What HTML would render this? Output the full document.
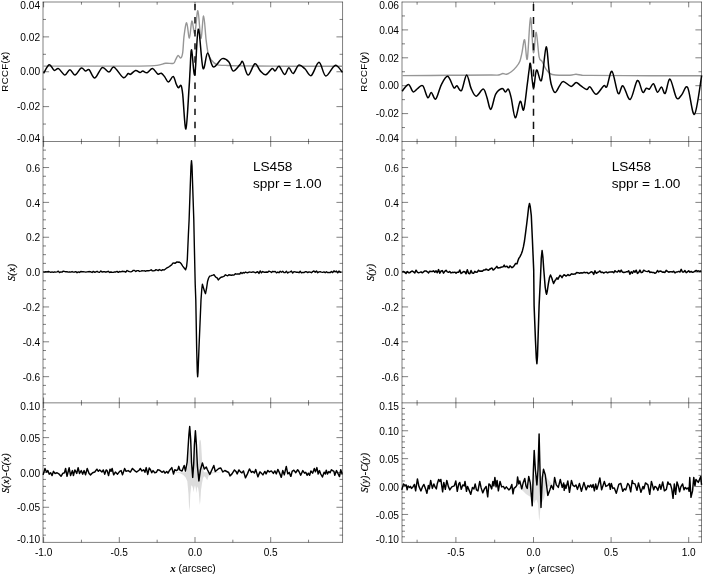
<!DOCTYPE html>
<html><head><meta charset="utf-8"><title>chart</title><style>html,body{margin:0;padding:0;background:#fff}svg{display:block;will-change:transform}</style></head><body>
<svg width="703" height="575" viewBox="0 0 703 575">
<rect width="703" height="575" fill="#fff"/>
<path d="M172.00,472.30L186.50,472.30L187.50,466.30L188.50,454.30L189.40,446.80L190.30,454.30L191.20,464.30L192.30,468.30L193.50,464.30L194.50,454.30L195.40,448.30L196.30,454.30L197.30,464.30L198.30,464.30L198.60,456.30L198.90,448.30L199.20,442.30L199.70,439.90L200.30,439.70L200.80,441.30L201.20,445.30L201.60,452.30L202.20,462.30L203.00,469.30L204.00,472.30L222.00,472.30L222.00,472.30L218.00,472.70L213.00,473.30L210.00,474.30L208.50,476.30L207.30,480.30L206.00,478.30L205.00,476.80L204.00,476.30L203.00,478.30L202.00,483.30L201.00,490.30L200.30,501.30L199.90,504.90L199.50,501.30L198.80,492.30L197.80,486.30L197.00,488.30L196.40,493.30L195.80,488.30L195.00,485.30L194.20,488.30L193.60,492.30L193.00,488.30L192.30,486.30L191.30,485.30L190.30,494.30L189.80,506.30L189.40,510.90L189.00,506.30L188.50,494.30L187.30,481.30L185.50,477.30L183.00,474.80L180.00,473.30L176.00,472.70L172.00,472.30Z" fill="#dcdcdc" stroke="none"/>
<path d="M518.00,486.40L531.00,486.40L533.00,480.40L534.20,474.40L536.50,478.40L539.30,472.40L541.50,476.40L543.50,474.40L545.00,475.90L547.00,477.90L549.00,480.40L551.00,482.90L553.00,484.90L555.50,486.40L555.50,486.40L546.50,486.40L545.50,492.40L544.00,498.40L542.00,502.40L540.80,505.40L540.20,510.40L539.70,517.40L539.30,521.10L538.90,517.40L538.40,510.40L537.80,503.40L536.50,499.40L535.50,500.40L534.20,503.40L533.00,499.40L531.00,496.90L529.00,495.90L526.00,493.90L523.00,490.90L520.00,488.40L518.00,486.40Z" fill="#e0e0e0" stroke="none"/>
<line x1="42.75" y1="2.00" x2="342.80" y2="2.00" stroke="#000" stroke-width="0.5" fill="none"/>
<line x1="42.75" y1="141.50" x2="342.80" y2="141.50" stroke="#000" stroke-width="0.5" fill="none"/>
<line x1="42.75" y1="402.85" x2="342.80" y2="402.85" stroke="#000" stroke-width="0.5" fill="none"/>
<line x1="42.75" y1="542.40" x2="342.80" y2="542.40" stroke="#000" stroke-width="0.5" fill="none"/>
<line x1="43.00" y1="1.75" x2="43.00" y2="542.65" stroke="#000" stroke-width="0.5" fill="none"/>
<line x1="342.55" y1="1.75" x2="342.55" y2="542.65" stroke="#000" stroke-width="0.5" fill="none"/>
<line x1="43.60" y1="2.00" x2="43.60" y2="7.35" stroke="#000" stroke-width="0.5" fill="none"/>
<line x1="43.60" y1="136.15" x2="43.60" y2="146.85" stroke="#000" stroke-width="0.5" fill="none"/>
<line x1="43.60" y1="397.50" x2="43.60" y2="408.20" stroke="#000" stroke-width="0.5" fill="none"/>
<line x1="43.60" y1="537.05" x2="43.60" y2="542.40" stroke="#000" stroke-width="0.5" fill="none"/>
<line x1="81.45" y1="2.00" x2="81.45" y2="4.70" stroke="#000" stroke-width="0.5" fill="none"/>
<line x1="81.45" y1="138.80" x2="81.45" y2="144.20" stroke="#000" stroke-width="0.5" fill="none"/>
<line x1="81.45" y1="400.15" x2="81.45" y2="405.55" stroke="#000" stroke-width="0.5" fill="none"/>
<line x1="81.45" y1="539.70" x2="81.45" y2="542.40" stroke="#000" stroke-width="0.5" fill="none"/>
<line x1="119.30" y1="2.00" x2="119.30" y2="7.35" stroke="#000" stroke-width="0.5" fill="none"/>
<line x1="119.30" y1="136.15" x2="119.30" y2="146.85" stroke="#000" stroke-width="0.5" fill="none"/>
<line x1="119.30" y1="397.50" x2="119.30" y2="408.20" stroke="#000" stroke-width="0.5" fill="none"/>
<line x1="119.30" y1="537.05" x2="119.30" y2="542.40" stroke="#000" stroke-width="0.5" fill="none"/>
<line x1="157.15" y1="2.00" x2="157.15" y2="4.70" stroke="#000" stroke-width="0.5" fill="none"/>
<line x1="157.15" y1="138.80" x2="157.15" y2="144.20" stroke="#000" stroke-width="0.5" fill="none"/>
<line x1="157.15" y1="400.15" x2="157.15" y2="405.55" stroke="#000" stroke-width="0.5" fill="none"/>
<line x1="157.15" y1="539.70" x2="157.15" y2="542.40" stroke="#000" stroke-width="0.5" fill="none"/>
<line x1="195.00" y1="2.00" x2="195.00" y2="7.35" stroke="#000" stroke-width="0.5" fill="none"/>
<line x1="195.00" y1="136.15" x2="195.00" y2="146.85" stroke="#000" stroke-width="0.5" fill="none"/>
<line x1="195.00" y1="397.50" x2="195.00" y2="408.20" stroke="#000" stroke-width="0.5" fill="none"/>
<line x1="195.00" y1="537.05" x2="195.00" y2="542.40" stroke="#000" stroke-width="0.5" fill="none"/>
<line x1="232.85" y1="2.00" x2="232.85" y2="4.70" stroke="#000" stroke-width="0.5" fill="none"/>
<line x1="232.85" y1="138.80" x2="232.85" y2="144.20" stroke="#000" stroke-width="0.5" fill="none"/>
<line x1="232.85" y1="400.15" x2="232.85" y2="405.55" stroke="#000" stroke-width="0.5" fill="none"/>
<line x1="232.85" y1="539.70" x2="232.85" y2="542.40" stroke="#000" stroke-width="0.5" fill="none"/>
<line x1="270.70" y1="2.00" x2="270.70" y2="7.35" stroke="#000" stroke-width="0.5" fill="none"/>
<line x1="270.70" y1="136.15" x2="270.70" y2="146.85" stroke="#000" stroke-width="0.5" fill="none"/>
<line x1="270.70" y1="397.50" x2="270.70" y2="408.20" stroke="#000" stroke-width="0.5" fill="none"/>
<line x1="270.70" y1="537.05" x2="270.70" y2="542.40" stroke="#000" stroke-width="0.5" fill="none"/>
<line x1="308.55" y1="2.00" x2="308.55" y2="4.70" stroke="#000" stroke-width="0.5" fill="none"/>
<line x1="308.55" y1="138.80" x2="308.55" y2="144.20" stroke="#000" stroke-width="0.5" fill="none"/>
<line x1="308.55" y1="400.15" x2="308.55" y2="405.55" stroke="#000" stroke-width="0.5" fill="none"/>
<line x1="308.55" y1="539.70" x2="308.55" y2="542.40" stroke="#000" stroke-width="0.5" fill="none"/>
<line x1="401.75" y1="2.00" x2="701.75" y2="2.00" stroke="#000" stroke-width="0.5" fill="none"/>
<line x1="401.75" y1="141.50" x2="701.75" y2="141.50" stroke="#000" stroke-width="0.5" fill="none"/>
<line x1="401.75" y1="402.85" x2="701.75" y2="402.85" stroke="#000" stroke-width="0.5" fill="none"/>
<line x1="401.75" y1="542.40" x2="701.75" y2="542.40" stroke="#000" stroke-width="0.5" fill="none"/>
<line x1="402.00" y1="1.75" x2="402.00" y2="542.65" stroke="#000" stroke-width="0.5" fill="none"/>
<line x1="701.50" y1="1.75" x2="701.50" y2="542.65" stroke="#000" stroke-width="0.5" fill="none"/>
<line x1="417.10" y1="2.00" x2="417.10" y2="4.70" stroke="#000" stroke-width="0.5" fill="none"/>
<line x1="417.10" y1="138.80" x2="417.10" y2="144.20" stroke="#000" stroke-width="0.5" fill="none"/>
<line x1="417.10" y1="400.15" x2="417.10" y2="405.55" stroke="#000" stroke-width="0.5" fill="none"/>
<line x1="417.10" y1="539.70" x2="417.10" y2="542.40" stroke="#000" stroke-width="0.5" fill="none"/>
<line x1="455.90" y1="2.00" x2="455.90" y2="7.35" stroke="#000" stroke-width="0.5" fill="none"/>
<line x1="455.90" y1="136.15" x2="455.90" y2="146.85" stroke="#000" stroke-width="0.5" fill="none"/>
<line x1="455.90" y1="397.50" x2="455.90" y2="408.20" stroke="#000" stroke-width="0.5" fill="none"/>
<line x1="455.90" y1="537.05" x2="455.90" y2="542.40" stroke="#000" stroke-width="0.5" fill="none"/>
<line x1="494.70" y1="2.00" x2="494.70" y2="4.70" stroke="#000" stroke-width="0.5" fill="none"/>
<line x1="494.70" y1="138.80" x2="494.70" y2="144.20" stroke="#000" stroke-width="0.5" fill="none"/>
<line x1="494.70" y1="400.15" x2="494.70" y2="405.55" stroke="#000" stroke-width="0.5" fill="none"/>
<line x1="494.70" y1="539.70" x2="494.70" y2="542.40" stroke="#000" stroke-width="0.5" fill="none"/>
<line x1="533.50" y1="2.00" x2="533.50" y2="7.35" stroke="#000" stroke-width="0.5" fill="none"/>
<line x1="533.50" y1="136.15" x2="533.50" y2="146.85" stroke="#000" stroke-width="0.5" fill="none"/>
<line x1="533.50" y1="397.50" x2="533.50" y2="408.20" stroke="#000" stroke-width="0.5" fill="none"/>
<line x1="533.50" y1="537.05" x2="533.50" y2="542.40" stroke="#000" stroke-width="0.5" fill="none"/>
<line x1="572.30" y1="2.00" x2="572.30" y2="4.70" stroke="#000" stroke-width="0.5" fill="none"/>
<line x1="572.30" y1="138.80" x2="572.30" y2="144.20" stroke="#000" stroke-width="0.5" fill="none"/>
<line x1="572.30" y1="400.15" x2="572.30" y2="405.55" stroke="#000" stroke-width="0.5" fill="none"/>
<line x1="572.30" y1="539.70" x2="572.30" y2="542.40" stroke="#000" stroke-width="0.5" fill="none"/>
<line x1="611.10" y1="2.00" x2="611.10" y2="7.35" stroke="#000" stroke-width="0.5" fill="none"/>
<line x1="611.10" y1="136.15" x2="611.10" y2="146.85" stroke="#000" stroke-width="0.5" fill="none"/>
<line x1="611.10" y1="397.50" x2="611.10" y2="408.20" stroke="#000" stroke-width="0.5" fill="none"/>
<line x1="611.10" y1="537.05" x2="611.10" y2="542.40" stroke="#000" stroke-width="0.5" fill="none"/>
<line x1="649.90" y1="2.00" x2="649.90" y2="4.70" stroke="#000" stroke-width="0.5" fill="none"/>
<line x1="649.90" y1="138.80" x2="649.90" y2="144.20" stroke="#000" stroke-width="0.5" fill="none"/>
<line x1="649.90" y1="400.15" x2="649.90" y2="405.55" stroke="#000" stroke-width="0.5" fill="none"/>
<line x1="649.90" y1="539.70" x2="649.90" y2="542.40" stroke="#000" stroke-width="0.5" fill="none"/>
<line x1="688.70" y1="2.00" x2="688.70" y2="7.35" stroke="#000" stroke-width="0.5" fill="none"/>
<line x1="688.70" y1="136.15" x2="688.70" y2="146.85" stroke="#000" stroke-width="0.5" fill="none"/>
<line x1="688.70" y1="397.50" x2="688.70" y2="408.20" stroke="#000" stroke-width="0.5" fill="none"/>
<line x1="688.70" y1="537.05" x2="688.70" y2="542.40" stroke="#000" stroke-width="0.5" fill="none"/>
<line x1="43.00" y1="124.06" x2="46.00" y2="124.06" stroke="#000" stroke-width="0.5" fill="none"/>
<line x1="342.55" y1="124.06" x2="339.55" y2="124.06" stroke="#000" stroke-width="0.5" fill="none"/>
<line x1="43.00" y1="106.62" x2="49.10" y2="106.62" stroke="#000" stroke-width="0.5" fill="none"/>
<line x1="342.55" y1="106.62" x2="336.45" y2="106.62" stroke="#000" stroke-width="0.5" fill="none"/>
<line x1="43.00" y1="89.19" x2="46.00" y2="89.19" stroke="#000" stroke-width="0.5" fill="none"/>
<line x1="342.55" y1="89.19" x2="339.55" y2="89.19" stroke="#000" stroke-width="0.5" fill="none"/>
<line x1="43.00" y1="71.75" x2="49.10" y2="71.75" stroke="#000" stroke-width="0.5" fill="none"/>
<line x1="342.55" y1="71.75" x2="336.45" y2="71.75" stroke="#000" stroke-width="0.5" fill="none"/>
<line x1="43.00" y1="54.31" x2="46.00" y2="54.31" stroke="#000" stroke-width="0.5" fill="none"/>
<line x1="342.55" y1="54.31" x2="339.55" y2="54.31" stroke="#000" stroke-width="0.5" fill="none"/>
<line x1="43.00" y1="36.88" x2="49.10" y2="36.88" stroke="#000" stroke-width="0.5" fill="none"/>
<line x1="342.55" y1="36.88" x2="336.45" y2="36.88" stroke="#000" stroke-width="0.5" fill="none"/>
<line x1="43.00" y1="19.44" x2="46.00" y2="19.44" stroke="#000" stroke-width="0.5" fill="none"/>
<line x1="342.55" y1="19.44" x2="339.55" y2="19.44" stroke="#000" stroke-width="0.5" fill="none"/>
<line x1="402.00" y1="127.55" x2="405.00" y2="127.55" stroke="#000" stroke-width="0.5" fill="none"/>
<line x1="701.50" y1="127.55" x2="698.50" y2="127.55" stroke="#000" stroke-width="0.5" fill="none"/>
<line x1="402.00" y1="113.60" x2="408.10" y2="113.60" stroke="#000" stroke-width="0.5" fill="none"/>
<line x1="701.50" y1="113.60" x2="695.40" y2="113.60" stroke="#000" stroke-width="0.5" fill="none"/>
<line x1="402.00" y1="99.65" x2="405.00" y2="99.65" stroke="#000" stroke-width="0.5" fill="none"/>
<line x1="701.50" y1="99.65" x2="698.50" y2="99.65" stroke="#000" stroke-width="0.5" fill="none"/>
<line x1="402.00" y1="85.70" x2="408.10" y2="85.70" stroke="#000" stroke-width="0.5" fill="none"/>
<line x1="701.50" y1="85.70" x2="695.40" y2="85.70" stroke="#000" stroke-width="0.5" fill="none"/>
<line x1="402.00" y1="71.75" x2="405.00" y2="71.75" stroke="#000" stroke-width="0.5" fill="none"/>
<line x1="701.50" y1="71.75" x2="698.50" y2="71.75" stroke="#000" stroke-width="0.5" fill="none"/>
<line x1="402.00" y1="57.80" x2="408.10" y2="57.80" stroke="#000" stroke-width="0.5" fill="none"/>
<line x1="701.50" y1="57.80" x2="695.40" y2="57.80" stroke="#000" stroke-width="0.5" fill="none"/>
<line x1="402.00" y1="43.85" x2="405.00" y2="43.85" stroke="#000" stroke-width="0.5" fill="none"/>
<line x1="701.50" y1="43.85" x2="698.50" y2="43.85" stroke="#000" stroke-width="0.5" fill="none"/>
<line x1="402.00" y1="29.90" x2="408.10" y2="29.90" stroke="#000" stroke-width="0.5" fill="none"/>
<line x1="701.50" y1="29.90" x2="695.40" y2="29.90" stroke="#000" stroke-width="0.5" fill="none"/>
<line x1="402.00" y1="15.95" x2="405.00" y2="15.95" stroke="#000" stroke-width="0.5" fill="none"/>
<line x1="701.50" y1="15.95" x2="698.50" y2="15.95" stroke="#000" stroke-width="0.5" fill="none"/>
<line x1="43.00" y1="394.09" x2="46.00" y2="394.09" stroke="#000" stroke-width="0.5" fill="none"/>
<line x1="342.55" y1="394.09" x2="339.55" y2="394.09" stroke="#000" stroke-width="0.5" fill="none"/>
<line x1="43.00" y1="385.38" x2="46.00" y2="385.38" stroke="#000" stroke-width="0.5" fill="none"/>
<line x1="342.55" y1="385.38" x2="339.55" y2="385.38" stroke="#000" stroke-width="0.5" fill="none"/>
<line x1="43.00" y1="376.66" x2="49.10" y2="376.66" stroke="#000" stroke-width="0.5" fill="none"/>
<line x1="342.55" y1="376.66" x2="336.45" y2="376.66" stroke="#000" stroke-width="0.5" fill="none"/>
<line x1="43.00" y1="367.95" x2="46.00" y2="367.95" stroke="#000" stroke-width="0.5" fill="none"/>
<line x1="342.55" y1="367.95" x2="339.55" y2="367.95" stroke="#000" stroke-width="0.5" fill="none"/>
<line x1="43.00" y1="359.24" x2="46.00" y2="359.24" stroke="#000" stroke-width="0.5" fill="none"/>
<line x1="342.55" y1="359.24" x2="339.55" y2="359.24" stroke="#000" stroke-width="0.5" fill="none"/>
<line x1="43.00" y1="350.52" x2="46.00" y2="350.52" stroke="#000" stroke-width="0.5" fill="none"/>
<line x1="342.55" y1="350.52" x2="339.55" y2="350.52" stroke="#000" stroke-width="0.5" fill="none"/>
<line x1="43.00" y1="341.81" x2="49.10" y2="341.81" stroke="#000" stroke-width="0.5" fill="none"/>
<line x1="342.55" y1="341.81" x2="336.45" y2="341.81" stroke="#000" stroke-width="0.5" fill="none"/>
<line x1="43.00" y1="333.09" x2="46.00" y2="333.09" stroke="#000" stroke-width="0.5" fill="none"/>
<line x1="342.55" y1="333.09" x2="339.55" y2="333.09" stroke="#000" stroke-width="0.5" fill="none"/>
<line x1="43.00" y1="324.38" x2="46.00" y2="324.38" stroke="#000" stroke-width="0.5" fill="none"/>
<line x1="342.55" y1="324.38" x2="339.55" y2="324.38" stroke="#000" stroke-width="0.5" fill="none"/>
<line x1="43.00" y1="315.67" x2="46.00" y2="315.67" stroke="#000" stroke-width="0.5" fill="none"/>
<line x1="342.55" y1="315.67" x2="339.55" y2="315.67" stroke="#000" stroke-width="0.5" fill="none"/>
<line x1="43.00" y1="306.95" x2="49.10" y2="306.95" stroke="#000" stroke-width="0.5" fill="none"/>
<line x1="342.55" y1="306.95" x2="336.45" y2="306.95" stroke="#000" stroke-width="0.5" fill="none"/>
<line x1="43.00" y1="298.24" x2="46.00" y2="298.24" stroke="#000" stroke-width="0.5" fill="none"/>
<line x1="342.55" y1="298.24" x2="339.55" y2="298.24" stroke="#000" stroke-width="0.5" fill="none"/>
<line x1="43.00" y1="289.53" x2="46.00" y2="289.53" stroke="#000" stroke-width="0.5" fill="none"/>
<line x1="342.55" y1="289.53" x2="339.55" y2="289.53" stroke="#000" stroke-width="0.5" fill="none"/>
<line x1="43.00" y1="280.81" x2="46.00" y2="280.81" stroke="#000" stroke-width="0.5" fill="none"/>
<line x1="342.55" y1="280.81" x2="339.55" y2="280.81" stroke="#000" stroke-width="0.5" fill="none"/>
<line x1="43.00" y1="272.10" x2="49.10" y2="272.10" stroke="#000" stroke-width="0.5" fill="none"/>
<line x1="342.55" y1="272.10" x2="336.45" y2="272.10" stroke="#000" stroke-width="0.5" fill="none"/>
<line x1="43.00" y1="263.39" x2="46.00" y2="263.39" stroke="#000" stroke-width="0.5" fill="none"/>
<line x1="342.55" y1="263.39" x2="339.55" y2="263.39" stroke="#000" stroke-width="0.5" fill="none"/>
<line x1="43.00" y1="254.67" x2="46.00" y2="254.67" stroke="#000" stroke-width="0.5" fill="none"/>
<line x1="342.55" y1="254.67" x2="339.55" y2="254.67" stroke="#000" stroke-width="0.5" fill="none"/>
<line x1="43.00" y1="245.96" x2="46.00" y2="245.96" stroke="#000" stroke-width="0.5" fill="none"/>
<line x1="342.55" y1="245.96" x2="339.55" y2="245.96" stroke="#000" stroke-width="0.5" fill="none"/>
<line x1="43.00" y1="237.25" x2="49.10" y2="237.25" stroke="#000" stroke-width="0.5" fill="none"/>
<line x1="342.55" y1="237.25" x2="336.45" y2="237.25" stroke="#000" stroke-width="0.5" fill="none"/>
<line x1="43.00" y1="228.53" x2="46.00" y2="228.53" stroke="#000" stroke-width="0.5" fill="none"/>
<line x1="342.55" y1="228.53" x2="339.55" y2="228.53" stroke="#000" stroke-width="0.5" fill="none"/>
<line x1="43.00" y1="219.82" x2="46.00" y2="219.82" stroke="#000" stroke-width="0.5" fill="none"/>
<line x1="342.55" y1="219.82" x2="339.55" y2="219.82" stroke="#000" stroke-width="0.5" fill="none"/>
<line x1="43.00" y1="211.11" x2="46.00" y2="211.11" stroke="#000" stroke-width="0.5" fill="none"/>
<line x1="342.55" y1="211.11" x2="339.55" y2="211.11" stroke="#000" stroke-width="0.5" fill="none"/>
<line x1="43.00" y1="202.39" x2="49.10" y2="202.39" stroke="#000" stroke-width="0.5" fill="none"/>
<line x1="342.55" y1="202.39" x2="336.45" y2="202.39" stroke="#000" stroke-width="0.5" fill="none"/>
<line x1="43.00" y1="193.68" x2="46.00" y2="193.68" stroke="#000" stroke-width="0.5" fill="none"/>
<line x1="342.55" y1="193.68" x2="339.55" y2="193.68" stroke="#000" stroke-width="0.5" fill="none"/>
<line x1="43.00" y1="184.97" x2="46.00" y2="184.97" stroke="#000" stroke-width="0.5" fill="none"/>
<line x1="342.55" y1="184.97" x2="339.55" y2="184.97" stroke="#000" stroke-width="0.5" fill="none"/>
<line x1="43.00" y1="176.25" x2="46.00" y2="176.25" stroke="#000" stroke-width="0.5" fill="none"/>
<line x1="342.55" y1="176.25" x2="339.55" y2="176.25" stroke="#000" stroke-width="0.5" fill="none"/>
<line x1="43.00" y1="167.54" x2="49.10" y2="167.54" stroke="#000" stroke-width="0.5" fill="none"/>
<line x1="342.55" y1="167.54" x2="336.45" y2="167.54" stroke="#000" stroke-width="0.5" fill="none"/>
<line x1="43.00" y1="158.82" x2="46.00" y2="158.82" stroke="#000" stroke-width="0.5" fill="none"/>
<line x1="342.55" y1="158.82" x2="339.55" y2="158.82" stroke="#000" stroke-width="0.5" fill="none"/>
<line x1="43.00" y1="150.11" x2="46.00" y2="150.11" stroke="#000" stroke-width="0.5" fill="none"/>
<line x1="342.55" y1="150.11" x2="339.55" y2="150.11" stroke="#000" stroke-width="0.5" fill="none"/>
<line x1="402.00" y1="394.09" x2="405.00" y2="394.09" stroke="#000" stroke-width="0.5" fill="none"/>
<line x1="701.50" y1="394.09" x2="698.50" y2="394.09" stroke="#000" stroke-width="0.5" fill="none"/>
<line x1="402.00" y1="385.38" x2="405.00" y2="385.38" stroke="#000" stroke-width="0.5" fill="none"/>
<line x1="701.50" y1="385.38" x2="698.50" y2="385.38" stroke="#000" stroke-width="0.5" fill="none"/>
<line x1="402.00" y1="376.66" x2="408.10" y2="376.66" stroke="#000" stroke-width="0.5" fill="none"/>
<line x1="701.50" y1="376.66" x2="695.40" y2="376.66" stroke="#000" stroke-width="0.5" fill="none"/>
<line x1="402.00" y1="367.95" x2="405.00" y2="367.95" stroke="#000" stroke-width="0.5" fill="none"/>
<line x1="701.50" y1="367.95" x2="698.50" y2="367.95" stroke="#000" stroke-width="0.5" fill="none"/>
<line x1="402.00" y1="359.24" x2="405.00" y2="359.24" stroke="#000" stroke-width="0.5" fill="none"/>
<line x1="701.50" y1="359.24" x2="698.50" y2="359.24" stroke="#000" stroke-width="0.5" fill="none"/>
<line x1="402.00" y1="350.52" x2="405.00" y2="350.52" stroke="#000" stroke-width="0.5" fill="none"/>
<line x1="701.50" y1="350.52" x2="698.50" y2="350.52" stroke="#000" stroke-width="0.5" fill="none"/>
<line x1="402.00" y1="341.81" x2="408.10" y2="341.81" stroke="#000" stroke-width="0.5" fill="none"/>
<line x1="701.50" y1="341.81" x2="695.40" y2="341.81" stroke="#000" stroke-width="0.5" fill="none"/>
<line x1="402.00" y1="333.09" x2="405.00" y2="333.09" stroke="#000" stroke-width="0.5" fill="none"/>
<line x1="701.50" y1="333.09" x2="698.50" y2="333.09" stroke="#000" stroke-width="0.5" fill="none"/>
<line x1="402.00" y1="324.38" x2="405.00" y2="324.38" stroke="#000" stroke-width="0.5" fill="none"/>
<line x1="701.50" y1="324.38" x2="698.50" y2="324.38" stroke="#000" stroke-width="0.5" fill="none"/>
<line x1="402.00" y1="315.67" x2="405.00" y2="315.67" stroke="#000" stroke-width="0.5" fill="none"/>
<line x1="701.50" y1="315.67" x2="698.50" y2="315.67" stroke="#000" stroke-width="0.5" fill="none"/>
<line x1="402.00" y1="306.95" x2="408.10" y2="306.95" stroke="#000" stroke-width="0.5" fill="none"/>
<line x1="701.50" y1="306.95" x2="695.40" y2="306.95" stroke="#000" stroke-width="0.5" fill="none"/>
<line x1="402.00" y1="298.24" x2="405.00" y2="298.24" stroke="#000" stroke-width="0.5" fill="none"/>
<line x1="701.50" y1="298.24" x2="698.50" y2="298.24" stroke="#000" stroke-width="0.5" fill="none"/>
<line x1="402.00" y1="289.53" x2="405.00" y2="289.53" stroke="#000" stroke-width="0.5" fill="none"/>
<line x1="701.50" y1="289.53" x2="698.50" y2="289.53" stroke="#000" stroke-width="0.5" fill="none"/>
<line x1="402.00" y1="280.81" x2="405.00" y2="280.81" stroke="#000" stroke-width="0.5" fill="none"/>
<line x1="701.50" y1="280.81" x2="698.50" y2="280.81" stroke="#000" stroke-width="0.5" fill="none"/>
<line x1="402.00" y1="272.10" x2="408.10" y2="272.10" stroke="#000" stroke-width="0.5" fill="none"/>
<line x1="701.50" y1="272.10" x2="695.40" y2="272.10" stroke="#000" stroke-width="0.5" fill="none"/>
<line x1="402.00" y1="263.39" x2="405.00" y2="263.39" stroke="#000" stroke-width="0.5" fill="none"/>
<line x1="701.50" y1="263.39" x2="698.50" y2="263.39" stroke="#000" stroke-width="0.5" fill="none"/>
<line x1="402.00" y1="254.67" x2="405.00" y2="254.67" stroke="#000" stroke-width="0.5" fill="none"/>
<line x1="701.50" y1="254.67" x2="698.50" y2="254.67" stroke="#000" stroke-width="0.5" fill="none"/>
<line x1="402.00" y1="245.96" x2="405.00" y2="245.96" stroke="#000" stroke-width="0.5" fill="none"/>
<line x1="701.50" y1="245.96" x2="698.50" y2="245.96" stroke="#000" stroke-width="0.5" fill="none"/>
<line x1="402.00" y1="237.25" x2="408.10" y2="237.25" stroke="#000" stroke-width="0.5" fill="none"/>
<line x1="701.50" y1="237.25" x2="695.40" y2="237.25" stroke="#000" stroke-width="0.5" fill="none"/>
<line x1="402.00" y1="228.53" x2="405.00" y2="228.53" stroke="#000" stroke-width="0.5" fill="none"/>
<line x1="701.50" y1="228.53" x2="698.50" y2="228.53" stroke="#000" stroke-width="0.5" fill="none"/>
<line x1="402.00" y1="219.82" x2="405.00" y2="219.82" stroke="#000" stroke-width="0.5" fill="none"/>
<line x1="701.50" y1="219.82" x2="698.50" y2="219.82" stroke="#000" stroke-width="0.5" fill="none"/>
<line x1="402.00" y1="211.11" x2="405.00" y2="211.11" stroke="#000" stroke-width="0.5" fill="none"/>
<line x1="701.50" y1="211.11" x2="698.50" y2="211.11" stroke="#000" stroke-width="0.5" fill="none"/>
<line x1="402.00" y1="202.39" x2="408.10" y2="202.39" stroke="#000" stroke-width="0.5" fill="none"/>
<line x1="701.50" y1="202.39" x2="695.40" y2="202.39" stroke="#000" stroke-width="0.5" fill="none"/>
<line x1="402.00" y1="193.68" x2="405.00" y2="193.68" stroke="#000" stroke-width="0.5" fill="none"/>
<line x1="701.50" y1="193.68" x2="698.50" y2="193.68" stroke="#000" stroke-width="0.5" fill="none"/>
<line x1="402.00" y1="184.97" x2="405.00" y2="184.97" stroke="#000" stroke-width="0.5" fill="none"/>
<line x1="701.50" y1="184.97" x2="698.50" y2="184.97" stroke="#000" stroke-width="0.5" fill="none"/>
<line x1="402.00" y1="176.25" x2="405.00" y2="176.25" stroke="#000" stroke-width="0.5" fill="none"/>
<line x1="701.50" y1="176.25" x2="698.50" y2="176.25" stroke="#000" stroke-width="0.5" fill="none"/>
<line x1="402.00" y1="167.54" x2="408.10" y2="167.54" stroke="#000" stroke-width="0.5" fill="none"/>
<line x1="701.50" y1="167.54" x2="695.40" y2="167.54" stroke="#000" stroke-width="0.5" fill="none"/>
<line x1="402.00" y1="158.82" x2="405.00" y2="158.82" stroke="#000" stroke-width="0.5" fill="none"/>
<line x1="701.50" y1="158.82" x2="698.50" y2="158.82" stroke="#000" stroke-width="0.5" fill="none"/>
<line x1="402.00" y1="150.11" x2="405.00" y2="150.11" stroke="#000" stroke-width="0.5" fill="none"/>
<line x1="701.50" y1="150.11" x2="698.50" y2="150.11" stroke="#000" stroke-width="0.5" fill="none"/>
<line x1="43.00" y1="535.13" x2="46.00" y2="535.13" stroke="#000" stroke-width="0.5" fill="none"/>
<line x1="342.55" y1="535.13" x2="339.55" y2="535.13" stroke="#000" stroke-width="0.5" fill="none"/>
<line x1="43.00" y1="528.17" x2="46.00" y2="528.17" stroke="#000" stroke-width="0.5" fill="none"/>
<line x1="342.55" y1="528.17" x2="339.55" y2="528.17" stroke="#000" stroke-width="0.5" fill="none"/>
<line x1="43.00" y1="521.21" x2="46.00" y2="521.21" stroke="#000" stroke-width="0.5" fill="none"/>
<line x1="342.55" y1="521.21" x2="339.55" y2="521.21" stroke="#000" stroke-width="0.5" fill="none"/>
<line x1="43.00" y1="514.24" x2="46.00" y2="514.24" stroke="#000" stroke-width="0.5" fill="none"/>
<line x1="342.55" y1="514.24" x2="339.55" y2="514.24" stroke="#000" stroke-width="0.5" fill="none"/>
<line x1="43.00" y1="507.27" x2="49.10" y2="507.27" stroke="#000" stroke-width="0.5" fill="none"/>
<line x1="342.55" y1="507.27" x2="336.45" y2="507.27" stroke="#000" stroke-width="0.5" fill="none"/>
<line x1="43.00" y1="500.31" x2="46.00" y2="500.31" stroke="#000" stroke-width="0.5" fill="none"/>
<line x1="342.55" y1="500.31" x2="339.55" y2="500.31" stroke="#000" stroke-width="0.5" fill="none"/>
<line x1="43.00" y1="493.34" x2="46.00" y2="493.34" stroke="#000" stroke-width="0.5" fill="none"/>
<line x1="342.55" y1="493.34" x2="339.55" y2="493.34" stroke="#000" stroke-width="0.5" fill="none"/>
<line x1="43.00" y1="486.38" x2="46.00" y2="486.38" stroke="#000" stroke-width="0.5" fill="none"/>
<line x1="342.55" y1="486.38" x2="339.55" y2="486.38" stroke="#000" stroke-width="0.5" fill="none"/>
<line x1="43.00" y1="479.41" x2="46.00" y2="479.41" stroke="#000" stroke-width="0.5" fill="none"/>
<line x1="342.55" y1="479.41" x2="339.55" y2="479.41" stroke="#000" stroke-width="0.5" fill="none"/>
<line x1="43.00" y1="472.45" x2="49.10" y2="472.45" stroke="#000" stroke-width="0.5" fill="none"/>
<line x1="342.55" y1="472.45" x2="336.45" y2="472.45" stroke="#000" stroke-width="0.5" fill="none"/>
<line x1="43.00" y1="465.49" x2="46.00" y2="465.49" stroke="#000" stroke-width="0.5" fill="none"/>
<line x1="342.55" y1="465.49" x2="339.55" y2="465.49" stroke="#000" stroke-width="0.5" fill="none"/>
<line x1="43.00" y1="458.52" x2="46.00" y2="458.52" stroke="#000" stroke-width="0.5" fill="none"/>
<line x1="342.55" y1="458.52" x2="339.55" y2="458.52" stroke="#000" stroke-width="0.5" fill="none"/>
<line x1="43.00" y1="451.56" x2="46.00" y2="451.56" stroke="#000" stroke-width="0.5" fill="none"/>
<line x1="342.55" y1="451.56" x2="339.55" y2="451.56" stroke="#000" stroke-width="0.5" fill="none"/>
<line x1="43.00" y1="444.59" x2="46.00" y2="444.59" stroke="#000" stroke-width="0.5" fill="none"/>
<line x1="342.55" y1="444.59" x2="339.55" y2="444.59" stroke="#000" stroke-width="0.5" fill="none"/>
<line x1="43.00" y1="437.62" x2="49.10" y2="437.62" stroke="#000" stroke-width="0.5" fill="none"/>
<line x1="342.55" y1="437.62" x2="336.45" y2="437.62" stroke="#000" stroke-width="0.5" fill="none"/>
<line x1="43.00" y1="430.66" x2="46.00" y2="430.66" stroke="#000" stroke-width="0.5" fill="none"/>
<line x1="342.55" y1="430.66" x2="339.55" y2="430.66" stroke="#000" stroke-width="0.5" fill="none"/>
<line x1="43.00" y1="423.69" x2="46.00" y2="423.69" stroke="#000" stroke-width="0.5" fill="none"/>
<line x1="342.55" y1="423.69" x2="339.55" y2="423.69" stroke="#000" stroke-width="0.5" fill="none"/>
<line x1="43.00" y1="416.73" x2="46.00" y2="416.73" stroke="#000" stroke-width="0.5" fill="none"/>
<line x1="342.55" y1="416.73" x2="339.55" y2="416.73" stroke="#000" stroke-width="0.5" fill="none"/>
<line x1="43.00" y1="409.76" x2="46.00" y2="409.76" stroke="#000" stroke-width="0.5" fill="none"/>
<line x1="342.55" y1="409.76" x2="339.55" y2="409.76" stroke="#000" stroke-width="0.5" fill="none"/>
<line x1="402.00" y1="536.77" x2="405.00" y2="536.77" stroke="#000" stroke-width="0.5" fill="none"/>
<line x1="701.50" y1="536.77" x2="698.50" y2="536.77" stroke="#000" stroke-width="0.5" fill="none"/>
<line x1="402.00" y1="531.19" x2="405.00" y2="531.19" stroke="#000" stroke-width="0.5" fill="none"/>
<line x1="701.50" y1="531.19" x2="698.50" y2="531.19" stroke="#000" stroke-width="0.5" fill="none"/>
<line x1="402.00" y1="525.61" x2="405.00" y2="525.61" stroke="#000" stroke-width="0.5" fill="none"/>
<line x1="701.50" y1="525.61" x2="698.50" y2="525.61" stroke="#000" stroke-width="0.5" fill="none"/>
<line x1="402.00" y1="520.03" x2="405.00" y2="520.03" stroke="#000" stroke-width="0.5" fill="none"/>
<line x1="701.50" y1="520.03" x2="698.50" y2="520.03" stroke="#000" stroke-width="0.5" fill="none"/>
<line x1="402.00" y1="514.45" x2="408.10" y2="514.45" stroke="#000" stroke-width="0.5" fill="none"/>
<line x1="701.50" y1="514.45" x2="695.40" y2="514.45" stroke="#000" stroke-width="0.5" fill="none"/>
<line x1="402.00" y1="508.87" x2="405.00" y2="508.87" stroke="#000" stroke-width="0.5" fill="none"/>
<line x1="701.50" y1="508.87" x2="698.50" y2="508.87" stroke="#000" stroke-width="0.5" fill="none"/>
<line x1="402.00" y1="503.29" x2="405.00" y2="503.29" stroke="#000" stroke-width="0.5" fill="none"/>
<line x1="701.50" y1="503.29" x2="698.50" y2="503.29" stroke="#000" stroke-width="0.5" fill="none"/>
<line x1="402.00" y1="497.71" x2="405.00" y2="497.71" stroke="#000" stroke-width="0.5" fill="none"/>
<line x1="701.50" y1="497.71" x2="698.50" y2="497.71" stroke="#000" stroke-width="0.5" fill="none"/>
<line x1="402.00" y1="492.13" x2="405.00" y2="492.13" stroke="#000" stroke-width="0.5" fill="none"/>
<line x1="701.50" y1="492.13" x2="698.50" y2="492.13" stroke="#000" stroke-width="0.5" fill="none"/>
<line x1="402.00" y1="486.55" x2="408.10" y2="486.55" stroke="#000" stroke-width="0.5" fill="none"/>
<line x1="701.50" y1="486.55" x2="695.40" y2="486.55" stroke="#000" stroke-width="0.5" fill="none"/>
<line x1="402.00" y1="480.97" x2="405.00" y2="480.97" stroke="#000" stroke-width="0.5" fill="none"/>
<line x1="701.50" y1="480.97" x2="698.50" y2="480.97" stroke="#000" stroke-width="0.5" fill="none"/>
<line x1="402.00" y1="475.39" x2="405.00" y2="475.39" stroke="#000" stroke-width="0.5" fill="none"/>
<line x1="701.50" y1="475.39" x2="698.50" y2="475.39" stroke="#000" stroke-width="0.5" fill="none"/>
<line x1="402.00" y1="469.81" x2="405.00" y2="469.81" stroke="#000" stroke-width="0.5" fill="none"/>
<line x1="701.50" y1="469.81" x2="698.50" y2="469.81" stroke="#000" stroke-width="0.5" fill="none"/>
<line x1="402.00" y1="464.23" x2="405.00" y2="464.23" stroke="#000" stroke-width="0.5" fill="none"/>
<line x1="701.50" y1="464.23" x2="698.50" y2="464.23" stroke="#000" stroke-width="0.5" fill="none"/>
<line x1="402.00" y1="458.65" x2="408.10" y2="458.65" stroke="#000" stroke-width="0.5" fill="none"/>
<line x1="701.50" y1="458.65" x2="695.40" y2="458.65" stroke="#000" stroke-width="0.5" fill="none"/>
<line x1="402.00" y1="453.07" x2="405.00" y2="453.07" stroke="#000" stroke-width="0.5" fill="none"/>
<line x1="701.50" y1="453.07" x2="698.50" y2="453.07" stroke="#000" stroke-width="0.5" fill="none"/>
<line x1="402.00" y1="447.49" x2="405.00" y2="447.49" stroke="#000" stroke-width="0.5" fill="none"/>
<line x1="701.50" y1="447.49" x2="698.50" y2="447.49" stroke="#000" stroke-width="0.5" fill="none"/>
<line x1="402.00" y1="441.91" x2="405.00" y2="441.91" stroke="#000" stroke-width="0.5" fill="none"/>
<line x1="701.50" y1="441.91" x2="698.50" y2="441.91" stroke="#000" stroke-width="0.5" fill="none"/>
<line x1="402.00" y1="436.33" x2="405.00" y2="436.33" stroke="#000" stroke-width="0.5" fill="none"/>
<line x1="701.50" y1="436.33" x2="698.50" y2="436.33" stroke="#000" stroke-width="0.5" fill="none"/>
<line x1="402.00" y1="430.75" x2="408.10" y2="430.75" stroke="#000" stroke-width="0.5" fill="none"/>
<line x1="701.50" y1="430.75" x2="695.40" y2="430.75" stroke="#000" stroke-width="0.5" fill="none"/>
<line x1="402.00" y1="425.17" x2="405.00" y2="425.17" stroke="#000" stroke-width="0.5" fill="none"/>
<line x1="701.50" y1="425.17" x2="698.50" y2="425.17" stroke="#000" stroke-width="0.5" fill="none"/>
<line x1="402.00" y1="419.59" x2="405.00" y2="419.59" stroke="#000" stroke-width="0.5" fill="none"/>
<line x1="701.50" y1="419.59" x2="698.50" y2="419.59" stroke="#000" stroke-width="0.5" fill="none"/>
<line x1="402.00" y1="414.01" x2="405.00" y2="414.01" stroke="#000" stroke-width="0.5" fill="none"/>
<line x1="701.50" y1="414.01" x2="698.50" y2="414.01" stroke="#000" stroke-width="0.5" fill="none"/>
<line x1="402.00" y1="408.43" x2="405.00" y2="408.43" stroke="#000" stroke-width="0.5" fill="none"/>
<line x1="701.50" y1="408.43" x2="698.50" y2="408.43" stroke="#000" stroke-width="0.5" fill="none"/>
<text x="40.20" y="8.70" font-size="10.2" text-anchor="end" font-family="Liberation Sans, sans-serif"  >0.04</text>
<text x="40.20" y="40.60" font-size="10.2" text-anchor="end" font-family="Liberation Sans, sans-serif"  >0.02</text>
<text x="40.20" y="75.45" font-size="10.2" text-anchor="end" font-family="Liberation Sans, sans-serif"  >0.00</text>
<text x="40.20" y="110.30" font-size="10.2" text-anchor="end" font-family="Liberation Sans, sans-serif"  >-0.02</text>
<text x="40.20" y="142.00" font-size="10.2" text-anchor="end" font-family="Liberation Sans, sans-serif"  >-0.04</text>
<text x="399.00" y="8.70" font-size="10.2" text-anchor="end" font-family="Liberation Sans, sans-serif"  >0.06</text>
<text x="399.00" y="33.60" font-size="10.2" text-anchor="end" font-family="Liberation Sans, sans-serif"  >0.04</text>
<text x="399.00" y="61.50" font-size="10.2" text-anchor="end" font-family="Liberation Sans, sans-serif"  >0.02</text>
<text x="399.00" y="89.40" font-size="10.2" text-anchor="end" font-family="Liberation Sans, sans-serif"  >0.00</text>
<text x="399.00" y="117.30" font-size="10.2" text-anchor="end" font-family="Liberation Sans, sans-serif"  >-0.02</text>
<text x="399.00" y="142.00" font-size="10.2" text-anchor="end" font-family="Liberation Sans, sans-serif"  >-0.04</text>
<text x="40.20" y="171.74" font-size="10.2" text-anchor="end" font-family="Liberation Sans, sans-serif"  >0.6</text>
<text x="399.00" y="171.74" font-size="10.2" text-anchor="end" font-family="Liberation Sans, sans-serif"  >0.6</text>
<text x="40.20" y="206.59" font-size="10.2" text-anchor="end" font-family="Liberation Sans, sans-serif"  >0.4</text>
<text x="399.00" y="206.59" font-size="10.2" text-anchor="end" font-family="Liberation Sans, sans-serif"  >0.4</text>
<text x="40.20" y="241.45" font-size="10.2" text-anchor="end" font-family="Liberation Sans, sans-serif"  >0.2</text>
<text x="399.00" y="241.45" font-size="10.2" text-anchor="end" font-family="Liberation Sans, sans-serif"  >0.2</text>
<text x="40.20" y="276.30" font-size="10.2" text-anchor="end" font-family="Liberation Sans, sans-serif"  >0.0</text>
<text x="399.00" y="276.30" font-size="10.2" text-anchor="end" font-family="Liberation Sans, sans-serif"  >0.0</text>
<text x="40.20" y="311.15" font-size="10.2" text-anchor="end" font-family="Liberation Sans, sans-serif"  >-0.2</text>
<text x="399.00" y="311.15" font-size="10.2" text-anchor="end" font-family="Liberation Sans, sans-serif"  >-0.2</text>
<text x="40.20" y="346.01" font-size="10.2" text-anchor="end" font-family="Liberation Sans, sans-serif"  >-0.4</text>
<text x="399.00" y="346.01" font-size="10.2" text-anchor="end" font-family="Liberation Sans, sans-serif"  >-0.4</text>
<text x="40.20" y="380.86" font-size="10.2" text-anchor="end" font-family="Liberation Sans, sans-serif"  >-0.6</text>
<text x="399.00" y="380.86" font-size="10.2" text-anchor="end" font-family="Liberation Sans, sans-serif"  >-0.6</text>
<text x="40.20" y="409.70" font-size="10.2" text-anchor="end" font-family="Liberation Sans, sans-serif"  >0.10</text>
<text x="40.20" y="441.82" font-size="10.2" text-anchor="end" font-family="Liberation Sans, sans-serif"  >0.05</text>
<text x="40.20" y="476.65" font-size="10.2" text-anchor="end" font-family="Liberation Sans, sans-serif"  >0.00</text>
<text x="40.20" y="511.47" font-size="10.2" text-anchor="end" font-family="Liberation Sans, sans-serif"  >-0.05</text>
<text x="40.20" y="542.70" font-size="10.2" text-anchor="end" font-family="Liberation Sans, sans-serif"  >-0.10</text>
<text x="399.00" y="409.70" font-size="10.2" text-anchor="end" font-family="Liberation Sans, sans-serif"  >0.15</text>
<text x="399.00" y="434.95" font-size="10.2" text-anchor="end" font-family="Liberation Sans, sans-serif"  >0.10</text>
<text x="399.00" y="462.85" font-size="10.2" text-anchor="end" font-family="Liberation Sans, sans-serif"  >0.05</text>
<text x="399.00" y="490.75" font-size="10.2" text-anchor="end" font-family="Liberation Sans, sans-serif"  >0.00</text>
<text x="399.00" y="518.65" font-size="10.2" text-anchor="end" font-family="Liberation Sans, sans-serif"  >-0.05</text>
<text x="399.00" y="542.70" font-size="10.2" text-anchor="end" font-family="Liberation Sans, sans-serif"  >-0.10</text>
<text x="43.60" y="555.60" font-size="10.1" text-anchor="middle" font-family="Liberation Sans, sans-serif"  >-1.0</text>
<text x="119.30" y="555.60" font-size="10.1" text-anchor="middle" font-family="Liberation Sans, sans-serif"  >-0.5</text>
<text x="195.00" y="555.60" font-size="10.1" text-anchor="middle" font-family="Liberation Sans, sans-serif"  >0.0</text>
<text x="270.70" y="555.60" font-size="10.1" text-anchor="middle" font-family="Liberation Sans, sans-serif"  >0.5</text>
<text x="455.90" y="555.60" font-size="10.1" text-anchor="middle" font-family="Liberation Sans, sans-serif"  >-0.5</text>
<text x="533.50" y="555.60" font-size="10.1" text-anchor="middle" font-family="Liberation Sans, sans-serif"  >0.0</text>
<text x="611.10" y="555.60" font-size="10.1" text-anchor="middle" font-family="Liberation Sans, sans-serif"  >0.5</text>
<text x="688.70" y="555.60" font-size="10.1" text-anchor="middle" font-family="Liberation Sans, sans-serif"  >1.0</text>
<text x="193.00" y="572.3" text-anchor="middle" font-size="10.3" font-family="Liberation Sans, sans-serif"><tspan font-family="Liberation Serif, serif" font-style="italic" font-weight="bold" font-size="11">x</tspan> (arcsec)</text>
<text x="552.00" y="572.3" text-anchor="middle" font-size="10.3" font-family="Liberation Sans, sans-serif"><tspan font-family="Liberation Serif, serif" font-style="italic" font-weight="bold" font-size="11">y</tspan> (arcsec)</text>
<text transform="translate(8.40,71.60) rotate(-90)" text-anchor="middle" font-size="9.7" letter-spacing="0.3" font-family="Liberation Sans, sans-serif">RCCF(<tspan font-family="Liberation Serif, serif" font-style="italic" font-size="10.4" stroke="#000" stroke-width="0.3">x</tspan>)</text>
<text transform="translate(367.20,71.60) rotate(-90)" text-anchor="middle" font-size="9.7" letter-spacing="0.3" font-family="Liberation Sans, sans-serif">RCCF(<tspan font-family="Liberation Serif, serif" font-style="italic" font-size="10.4" stroke="#000" stroke-width="0.3">y</tspan>)</text>
<text transform="translate(14.90,272.30) rotate(-90)" text-anchor="middle" font-size="10" letter-spacing="0.3" font-style="italic" font-family="Liberation Serif, serif" stroke="#000" stroke-width="0.2">S(x)</text>
<text transform="translate(373.60,272.30) rotate(-90)" text-anchor="middle" font-size="10" letter-spacing="0.3" font-style="italic" font-family="Liberation Serif, serif" stroke="#000" stroke-width="0.2">S(y)</text>
<text transform="translate(9.10,473.10) rotate(-90)" text-anchor="middle" font-size="10" letter-spacing="0.3" font-style="italic" font-family="Liberation Serif, serif" stroke="#000" stroke-width="0.2">S(x)-C(x)</text>
<text transform="translate(367.50,472.60) rotate(-90)" text-anchor="middle" font-size="10" letter-spacing="0.3" font-style="italic" font-family="Liberation Serif, serif" stroke="#000" stroke-width="0.2">S(y)-C(y)</text>
<text x="252.90" y="171.10" font-size="13.65" text-anchor="start" font-family="Liberation Sans, sans-serif"  >LS458</text>
<text x="252.90" y="188.30" font-size="13.65" text-anchor="start" font-family="Liberation Sans, sans-serif"  >sppr = 1.00</text>
<text x="611.70" y="171.10" font-size="13.65" text-anchor="start" font-family="Liberation Sans, sans-serif"  >LS458</text>
<text x="611.70" y="188.30" font-size="13.65" text-anchor="start" font-family="Liberation Sans, sans-serif"  >sppr = 1.00</text>
<path d="M43.30,66.10C52.75,66.10 83.88,66.10 100.00,66.10C116.12,66.10 130.48,66.22 140.00,66.10C149.52,65.98 152.83,65.87 157.10,65.40C161.37,64.93 162.88,63.65 165.60,63.30C168.32,62.95 171.73,63.90 173.40,63.30C175.07,62.70 174.82,61.00 175.60,59.70C176.38,58.40 177.23,55.78 178.10,55.50C178.97,55.22 180.03,58.48 180.80,58.00C181.57,57.52 182.15,56.33 182.70,52.60C183.25,48.87 183.43,40.57 184.10,35.60C184.77,30.63 185.82,22.38 186.70,22.80C187.58,23.22 188.53,38.38 189.40,38.10C190.27,37.82 191.00,21.88 191.90,21.10C192.80,20.32 193.80,35.13 194.80,33.40C195.80,31.67 196.88,9.87 197.90,10.70C198.92,11.53 199.95,37.53 200.90,38.40C201.85,39.27 202.73,15.67 203.60,15.90C204.47,16.13 205.32,33.45 206.10,39.80C206.88,46.15 207.47,50.68 208.30,54.00C209.13,57.32 209.68,57.92 211.10,59.70C212.52,61.48 214.43,63.75 216.80,64.70C219.17,65.65 221.43,65.20 225.30,65.40C229.17,65.60 229.22,65.77 240.00,65.90C250.78,66.03 272.90,66.15 290.00,66.20C307.10,66.25 333.83,66.20 342.60,66.20" stroke="#969696" stroke-width="1.4" fill="none" stroke-linejoin="round"/>
<path d="M402.30,75.60C410.25,75.55 435.38,75.40 450.00,75.30C464.62,75.20 481.92,75.05 490.00,75.00C498.08,74.95 496.37,75.25 498.50,75.00C500.63,74.75 501.48,73.62 502.80,73.50C504.12,73.38 504.98,74.58 506.40,74.30C507.82,74.02 509.65,73.03 511.30,71.80C512.95,70.57 514.87,68.67 516.30,66.90C517.73,65.13 518.95,63.58 519.90,61.20C520.85,58.82 521.22,56.17 522.00,52.60C522.78,49.03 523.72,38.73 524.60,39.80C525.48,40.87 526.32,62.67 527.30,59.00C528.28,55.33 529.48,18.87 530.50,17.80C531.52,16.73 532.45,50.17 533.40,52.60C534.35,55.03 535.25,31.68 536.20,32.40C537.15,33.12 538.15,52.10 539.10,56.90C540.05,61.70 540.83,59.30 541.90,61.20C542.97,63.10 544.20,66.28 545.50,68.30C546.80,70.32 548.05,72.18 549.70,73.30C551.35,74.42 552.02,74.68 555.40,75.00C558.78,75.32 566.57,75.32 570.00,75.20C573.43,75.08 574.00,74.28 576.00,74.30C578.00,74.32 579.67,75.12 582.00,75.30C584.33,75.48 578.67,75.33 590.00,75.40C601.33,75.47 631.37,75.65 650.00,75.70C668.63,75.75 693.17,75.70 701.80,75.70" stroke="#969696" stroke-width="1.4" fill="none" stroke-linejoin="round"/>
<line x1="195.00" y1="2.00" x2="195.00" y2="141.80" stroke="#111" stroke-width="1.50" stroke-dasharray="6.4 6.7" stroke-dashoffset="-1.9"/>
<line x1="533.50" y1="2.00" x2="533.50" y2="141.80" stroke="#111" stroke-width="1.50" stroke-dasharray="7.1 6.0" stroke-dashoffset="-1.9"/>
<path d="M43.60,73.30C44.53,71.87 47.43,65.18 49.20,64.70C50.97,64.22 52.65,69.75 54.20,70.40C55.75,71.05 56.72,67.83 58.50,68.60C60.28,69.37 63.00,74.82 64.90,75.00C66.80,75.18 68.23,69.70 69.90,69.70C71.57,69.70 73.00,75.28 74.90,75.00C76.80,74.72 79.53,68.65 81.30,68.00C83.07,67.35 84.20,70.82 85.50,71.10C86.80,71.38 87.55,68.55 89.10,69.70C90.65,70.85 92.62,78.35 94.80,78.00C96.98,77.65 99.83,68.58 102.20,67.60C104.57,66.62 107.03,72.18 109.00,72.10C110.97,72.02 111.63,66.20 114.00,67.10C116.37,68.00 120.83,76.43 123.20,77.50C125.57,78.57 126.97,74.03 128.20,73.50C129.43,72.97 129.37,74.82 130.60,74.30C131.83,73.78 134.03,70.70 135.60,70.40C137.17,70.10 138.80,72.38 140.00,72.50C141.20,72.62 141.62,71.05 142.80,71.10C143.98,71.15 145.48,73.22 147.10,72.80C148.72,72.38 150.72,68.40 152.50,68.60C154.28,68.80 156.33,73.23 157.80,74.00C159.27,74.77 160.12,72.68 161.30,73.20C162.48,73.72 163.72,75.62 164.90,77.10C166.08,78.58 167.02,82.20 168.40,82.10C169.78,82.00 171.88,76.15 173.20,76.50C174.52,76.85 175.43,82.32 176.30,84.20C177.17,86.08 177.62,87.60 178.40,87.80C179.18,88.00 180.28,84.33 181.00,85.40C181.72,86.47 181.88,86.93 182.70,94.20C183.52,101.47 184.83,130.18 185.90,129.00C186.97,127.82 188.40,96.93 189.10,87.10C189.80,77.27 189.68,76.22 190.10,70.00C190.52,63.78 190.82,49.02 191.60,49.80C192.38,50.58 193.68,78.13 194.80,74.70C195.92,71.27 196.93,30.27 198.30,29.20C199.67,28.13 201.45,64.35 203.00,68.30C204.55,72.25 205.88,53.13 207.60,52.90C209.32,52.67 210.87,65.95 213.30,66.90C215.73,67.85 219.60,59.43 222.20,58.60C224.80,57.77 227.07,59.82 228.90,61.90C230.73,63.98 231.35,70.65 233.20,71.10C235.05,71.55 238.40,66.13 240.00,64.60C241.60,63.07 241.45,60.15 242.80,61.90C244.15,63.65 246.08,74.78 248.10,75.10C250.12,75.42 252.87,64.50 254.90,63.80C256.93,63.10 258.48,69.07 260.30,70.90C262.12,72.73 263.83,75.20 265.80,74.80C267.77,74.40 270.53,69.15 272.10,68.50C273.67,67.85 274.03,71.28 275.20,70.90C276.37,70.52 277.53,65.60 279.10,66.20C280.67,66.80 282.98,74.25 284.60,74.50C286.22,74.75 287.37,67.87 288.80,67.70C290.23,67.53 291.55,73.93 293.20,73.50C294.85,73.07 296.75,65.88 298.70,65.10C300.65,64.32 302.82,67.05 304.90,68.80C306.98,70.55 308.85,76.68 311.20,75.60C313.55,74.52 316.57,62.23 319.00,62.30C321.43,62.37 323.12,75.48 325.80,76.00C328.48,76.52 332.32,66.00 335.10,65.40C337.88,64.80 341.27,71.23 342.50,72.40" stroke="#000" stroke-width="1.5" fill="none" stroke-linejoin="round"/>
<path d="M402.10,91.20C403.17,90.07 406.67,84.28 408.50,84.40C410.33,84.52 411.55,91.23 413.10,91.90C414.65,92.57 416.18,89.42 417.80,88.40C419.42,87.38 421.15,84.27 422.80,85.80C424.45,87.33 426.28,96.47 427.70,97.60C429.12,98.73 429.95,92.37 431.30,92.60C432.65,92.83 434.13,100.30 435.80,99.00C437.47,97.70 439.32,88.58 441.30,84.80C443.28,81.02 445.62,75.82 447.70,76.30C449.78,76.78 452.27,86.12 453.80,87.70C455.33,89.28 455.62,85.33 456.90,85.80C458.18,86.27 459.88,92.32 461.50,90.50C463.12,88.68 465.00,75.25 466.60,74.90C468.20,74.55 469.52,84.85 471.10,88.40C472.68,91.95 474.08,96.08 476.10,96.20C478.12,96.32 481.42,88.98 483.20,89.10C484.98,89.22 485.53,93.52 486.80,96.90C488.07,100.28 489.32,109.85 490.80,109.40C492.28,108.95 493.82,97.68 495.70,94.20C497.58,90.72 500.48,88.87 502.10,88.50C503.72,88.13 504.33,91.88 505.40,92.00C506.47,92.12 507.52,88.13 508.50,89.20C509.48,90.27 510.17,93.65 511.30,98.40C512.43,103.15 513.82,117.22 515.30,117.70C516.78,118.18 518.80,102.62 520.20,101.30C521.60,99.98 522.52,112.65 523.70,109.80C524.88,106.95 526.40,90.83 527.30,84.20C528.20,77.57 528.57,73.37 529.10,70.00C529.63,66.63 529.78,61.03 530.50,64.00C531.22,66.97 532.40,86.80 533.40,87.80C534.40,88.80 535.32,71.18 536.50,70.00C537.68,68.82 539.48,79.98 540.50,80.70C541.52,81.42 541.65,79.93 542.60,74.30C543.55,68.67 545.13,47.62 546.20,46.90C547.27,46.18 548.17,63.78 549.00,70.00C549.83,76.22 550.18,80.45 551.20,84.20C552.22,87.95 553.68,92.27 555.10,92.50C556.52,92.73 558.33,87.45 559.70,85.60C561.07,83.75 561.40,81.27 563.30,81.40C565.20,81.53 568.97,86.22 571.10,86.40C573.23,86.58 574.45,82.58 576.10,82.50C577.75,82.42 579.23,84.72 581.00,85.90C582.77,87.08 585.20,89.45 586.70,89.60C588.20,89.75 588.43,86.02 590.00,86.80C591.57,87.58 593.82,94.47 596.10,94.30C598.38,94.13 601.90,87.08 603.70,85.80C605.50,84.52 605.52,89.02 606.90,86.60C608.28,84.18 610.13,70.17 612.00,71.30C613.87,72.43 616.27,90.98 618.10,93.40C619.93,95.82 620.98,84.78 623.00,85.80C625.02,86.82 627.80,100.38 630.20,99.50C632.60,98.62 635.32,81.72 637.40,80.50C639.48,79.28 641.22,90.92 642.70,92.20C644.18,93.48 645.17,88.73 646.30,88.20C647.43,87.67 648.30,89.75 649.50,89.00C650.70,88.25 652.17,83.17 653.50,83.70C654.83,84.23 656.17,91.67 657.50,92.20C658.83,92.73 660.22,86.70 661.50,86.90C662.78,87.10 663.78,94.70 665.20,93.40C666.62,92.10 668.12,78.35 670.00,79.10C671.88,79.85 674.57,95.25 676.50,97.90C678.43,100.55 679.75,96.75 681.60,95.00C683.45,93.25 685.45,84.18 687.60,87.40C689.75,90.62 692.15,116.30 694.50,114.30C696.85,112.30 700.50,81.88 701.70,75.40" stroke="#000" stroke-width="1.5" fill="none" stroke-linejoin="round"/>
<path d="M43.30,271.79L44.55,272.15L45.80,271.72L47.05,271.83L48.30,271.53L49.55,271.94L50.80,272.35L52.05,271.92L53.30,272.33L54.55,271.85L55.80,272.08L57.05,271.91L58.30,271.20L59.55,272.51L60.80,271.90L62.05,272.11L63.30,271.12L64.55,271.44L65.80,271.69L67.05,271.78L68.30,272.07L69.55,271.82L70.80,272.15L72.05,271.54L73.30,272.15L74.55,271.98L75.80,271.60L77.05,272.73L78.30,271.84L79.55,272.42L80.80,271.46L82.05,271.74L83.30,271.81L84.55,271.89L85.80,272.17L87.05,271.91L88.30,271.71L89.55,271.57L90.80,271.80L92.05,272.45L93.30,271.37L94.55,272.19L95.80,271.98L97.05,271.25L98.30,272.15L99.55,272.36L100.80,270.89L102.05,272.12L103.30,271.78L104.55,271.60L105.80,272.21L107.05,271.76L108.30,271.33L109.55,272.45L110.80,271.99L112.05,272.27L113.30,272.38L114.55,271.89L115.80,271.96L117.05,271.34L118.30,272.36L119.55,271.48L120.80,271.82L122.05,271.28L123.30,271.51L124.55,271.53L125.80,272.20L127.05,270.49L128.30,271.24L129.55,271.61L130.80,271.90L132.05,271.35L133.30,270.42L134.55,270.40L135.80,271.53L137.05,270.59L138.30,270.67L139.55,271.44L140.80,271.14L142.05,270.77L143.30,270.85L144.55,270.81L145.80,271.23L147.05,270.59L148.30,270.69L149.55,270.58L150.00,270.40L151.20,269.80L152.40,270.89L153.60,270.76L154.80,270.60L156.00,269.65L157.13,270.11L158.27,270.62L159.40,269.56L160.53,270.13L161.67,270.54L162.80,269.60L164.15,270.06L165.50,269.01L167.00,267.79L168.50,267.02L169.50,266.50L170.50,265.65L171.65,264.94L172.80,263.15L173.90,263.04L175.00,263.40L176.00,262.61L177.00,261.87L178.10,262.21L179.20,262.06L180.10,262.58L181.00,263.48L182.70,266.15L184.15,267.94L185.60,269.69L186.60,266.50L187.30,259.80L188.40,234.20L189.10,220.00L190.30,185.00L191.00,166.00L191.50,160.60L192.00,166.00L192.80,190.00L193.80,220.00L194.40,248.40L195.20,284.00L195.80,300.00L196.70,350.00L197.30,372.00L197.65,376.80L198.05,372.00L199.10,345.00L200.05,322.50L201.00,300.00L201.80,289.00L202.40,284.30L203.50,288.00L204.50,291.20L205.50,293.70L206.60,288.00L207.60,281.20L208.60,278.00L209.70,276.20L210.85,275.79L212.00,275.35L213.00,275.09L214.00,274.64L215.00,276.25L216.00,277.31L217.15,277.90L218.30,279.92L219.65,278.38L221.00,277.29L222.10,277.04L223.20,276.56L224.30,276.20L225.40,274.76L226.55,275.41L227.70,275.78L228.85,274.76L230.00,274.97L231.32,275.21L232.65,275.03L233.98,275.12L235.30,273.75L236.42,274.07L237.53,273.87L238.65,274.04L239.77,274.01L240.88,272.38L242.00,273.61L243.17,272.47L244.33,273.09L245.50,272.08L246.67,272.53L247.83,272.74L249.00,272.04L250.20,272.10L251.45,272.37L252.70,271.94L253.95,271.98L255.20,272.78L256.45,272.25L257.70,271.76L258.95,273.46L260.20,270.92L261.45,272.84L262.70,271.57L263.95,272.22L265.20,272.28L266.45,272.01L267.70,272.31L268.95,271.13L270.20,271.55L271.45,272.46L272.70,271.36L273.95,271.71L275.20,271.37L276.45,272.86L277.70,272.07L278.95,272.71L280.20,271.28L281.45,272.25L282.70,271.34L283.95,272.61L285.20,272.58L286.45,271.35L287.70,273.01L288.95,272.14L290.20,271.86L291.45,271.06L292.70,273.03L293.95,271.59L295.20,271.84L296.45,272.26L297.70,272.12L298.95,272.71L300.20,271.24L301.45,272.83L302.70,272.45L303.95,272.57L305.20,271.71L306.45,271.73L307.70,272.60L308.95,271.85L310.20,272.12L311.45,272.67L312.70,271.63L313.95,270.98L315.20,272.16L316.45,271.02L317.70,272.75L318.95,271.89L320.20,271.73L321.45,272.09L322.70,272.39L323.95,271.90L325.20,272.70L326.45,271.73L327.70,272.62L328.95,272.53L330.20,272.62L331.45,271.45L332.70,272.63L333.95,270.84L335.20,271.86L336.45,271.07L337.70,272.86L338.95,271.08L340.20,272.31L341.45,271.79" stroke="#000" stroke-width="1.4" fill="none" stroke-linejoin="round"/>
<path d="M402.30,271.97L403.55,271.48L404.80,272.39L406.05,273.47L407.30,271.52L408.55,272.64L409.80,272.67L411.05,271.59L412.30,271.01L413.55,271.85L414.80,273.02L416.05,270.16L417.30,272.11L418.55,272.87L419.80,272.41L421.05,271.86L422.30,272.77L423.55,271.88L424.80,270.98L426.05,270.95L427.30,271.79L428.55,272.90L429.80,271.17L431.05,271.48L432.30,271.49L433.55,270.80L434.80,272.31L436.05,270.83L437.30,272.74L438.55,269.62L439.80,273.13L441.05,271.03L442.30,270.59L443.55,273.14L444.80,271.35L446.05,270.22L447.30,271.84L448.55,272.32L449.80,271.48L451.05,272.89L452.30,272.36L453.55,272.47L454.80,272.13L456.05,273.16L457.30,272.19L458.55,272.34L459.80,270.01L461.05,273.50L462.30,272.65L463.55,271.50L464.80,271.75L466.05,273.83L467.30,269.78L468.55,273.20L469.80,273.76L471.05,270.55L472.30,273.13L473.55,273.30L474.80,271.30L476.05,272.35L477.30,272.01L478.55,270.21L479.80,271.29L481.05,270.97L482.30,271.27L483.55,270.11L484.80,270.08L486.05,269.07L487.30,269.73L488.55,270.33L489.80,269.12L490.00,269.20L491.00,268.37L492.00,267.98L493.00,269.98L494.00,269.47L495.70,267.82L496.85,266.40L498.00,268.21L499.00,267.64L500.00,267.74L501.00,267.16L502.00,266.97L503.10,266.81L504.20,265.13L505.10,266.77L506.00,266.56L507.00,266.30L508.00,267.56L509.00,267.65L510.00,265.90L511.00,266.72L512.00,267.65L513.50,266.59L514.55,265.05L515.60,263.51L517.00,263.86L518.00,260.50L518.95,258.10L519.90,256.90L521.50,253.50L522.45,250.69L523.40,246.90L524.50,241.00L525.60,232.70L526.70,224.00L527.70,215.60L528.60,207.50L529.50,203.50L530.30,207.00L531.30,215.60L532.40,239.80L533.70,270.00L534.10,305.60L535.50,341.10L536.30,358.00L536.90,363.70L537.50,356.00L539.10,305.60L540.50,277.10L541.30,258.00L542.10,250.50L542.90,257.00L543.80,270.00L545.20,287.10L546.00,292.50L546.60,294.20L547.30,291.00L548.30,284.20L549.50,277.50L550.50,275.00L551.80,278.00L552.70,280.97L553.60,283.50L555.00,280.60L555.95,279.48L556.90,277.83L558.00,279.17L559.00,277.16L560.00,275.29L561.00,276.18L562.00,277.59L563.00,275.91L564.00,274.72L565.00,275.22L566.00,276.06L567.00,275.35L568.00,274.49L569.00,275.39L570.00,275.25L571.00,274.19L572.00,273.80L573.10,274.36L574.20,274.05L575.30,274.11L576.65,272.61L578.00,272.63L579.50,273.21L581.00,272.85L582.50,273.03L584.00,272.30L585.50,272.70L587.00,272.39L588.50,273.57L590.00,272.72L591.20,271.80L592.45,272.16L593.70,274.41L594.95,270.83L596.20,273.24L597.45,272.50L598.70,271.83L599.95,270.95L601.20,272.55L602.45,272.15L603.70,273.02L604.95,272.39L606.20,271.89L607.45,272.85L608.70,272.22L609.95,272.12L611.20,272.01L612.45,271.77L613.70,272.73L614.95,270.74L616.20,271.84L617.45,272.06L618.70,270.59L619.95,272.08L621.20,270.06L622.45,272.03L623.70,272.53L624.95,272.35L626.20,271.82L627.45,271.84L628.70,270.71L629.95,274.19L631.20,271.72L632.45,273.14L633.70,270.76L634.95,272.26L636.20,270.18L637.45,273.38L638.70,272.41L639.95,270.06L641.20,272.63L642.45,272.38L643.70,270.19L644.95,270.90L646.20,271.37L647.45,271.62L648.70,270.80L649.95,272.45L651.20,272.08L652.45,272.57L653.70,272.47L654.95,273.26L656.20,272.66L657.45,270.52L658.70,272.04L659.95,270.98L661.20,271.33L662.45,272.16L663.70,271.95L664.95,272.48L666.20,270.32L667.45,271.41L668.70,272.18L669.95,271.75L671.20,271.79L672.45,272.01L673.70,271.27L674.95,272.92L676.20,272.01L677.45,271.91L678.70,271.39L679.95,272.05L681.20,269.40L682.45,271.98L683.70,272.04L684.95,270.56L686.20,272.69L687.45,271.90L688.70,270.73L689.95,272.21L691.20,271.49L692.45,272.27L693.70,271.94L694.95,271.24L696.20,270.51L697.45,271.23L698.70,270.85L699.95,271.54L701.20,270.68" stroke="#000" stroke-width="1.5" fill="none" stroke-linejoin="round"/>
<path d="M43.13,474.87L44.98,468.47L46.40,472.03L47.82,470.60L49.25,474.16L50.67,472.74L52.09,475.58L53.51,471.32L54.94,473.45L57.07,472.74L59.20,474.16L61.05,476.29L62.76,473.45L64.47,472.74L65.60,468.47L67.03,476.29L69.16,467.76L70.58,475.58L72.43,470.60L73.43,475.58L74.85,469.89L76.70,473.45L78.12,467.76L79.54,473.45L81.25,470.60L82.67,474.16L84.10,470.60L85.52,474.87L87.23,468.47L89.08,473.45L90.50,474.87L92.63,472.74L94.77,472.03L96.90,469.18L98.32,471.32L99.74,469.89L101.88,472.03L103.30,469.89L104.72,474.16L106.15,469.89L107.14,470.60L108.56,475.58L109.99,469.18L111.12,471.32L112.12,468.47L113.68,474.87L115.39,472.03L117.52,474.16L119.66,471.32L121.08,470.60L122.50,474.87L124.64,468.47L126.06,471.32L128.19,470.60L130.33,472.03L132.46,468.47L134.59,470.60L136.73,472.03L139.29,470.04L140.24,468.46L141.95,471.02L143.65,469.74L144.93,472.30L146.21,467.61L147.75,474.44L149.20,468.04L150.48,469.74L151.76,472.73L153.04,470.60L154.74,472.73L156.45,472.30L157.73,469.74L159.44,470.17L162.00,472.30L163.70,471.02L164.98,473.16L166.69,471.45L167.97,473.16L169.68,470.17L171.81,467.61L173.52,474.01L174.80,469.74L176.50,470.60L177.78,469.74L178.81,466.33L179.91,470.17L182.05,471.02L184.18,465.48L185.46,471.02L187.17,462.06L188.90,434.90L189.70,426.50L190.70,439.90L191.50,462.00L192.70,477.40L193.70,464.00L194.40,444.90L195.40,430.70L196.40,444.90L197.40,466.00L198.90,480.90L200.40,470.00L202.40,463.00L204.30,469.00L206.30,467.00L207.30,469.50L209.80,474.40L211.80,470.00L213.80,465.50L215.30,471.50L218.80,468.50L220.80,468.00L222.80,472.00L224.80,470.50L228.70,472.50L230.00,475.88L231.99,473.88L234.48,469.90L235.98,471.39L237.17,473.88L238.96,469.90L240.46,471.89L241.95,472.89L243.45,470.90L245.44,477.87L247.43,473.88L249.42,468.90L251.41,472.39L252.91,471.39L254.40,472.89L255.70,469.40L257.89,476.87L259.88,471.89L261.08,472.89L262.87,474.88L264.86,471.39L266.06,473.88L267.85,470.40L269.34,471.89L271.33,470.90L273.33,473.39L274.82,470.90L276.31,473.88L277.81,469.40L279.30,472.39L281.29,477.37L282.79,470.40L284.28,474.88L286.27,466.41L287.77,473.88L289.26,472.39L290.76,476.37L291.02,476.14L292.13,471.45L293.84,470.17L295.80,472.73L297.68,469.74L298.96,471.45L300.67,475.29L302.80,470.60L304.51,473.16L305.78,472.30L307.06,475.29L308.34,473.16L309.62,475.29L310.90,471.02L312.61,473.16L314.32,468.46L315.43,471.88L316.88,467.61L318.16,474.01L319.44,470.60L320.72,474.01L322.42,477.00L324.13,472.30L325.41,474.01L326.26,470.17L327.54,474.01L328.82,471.45L330.10,472.73L331.38,469.74L332.66,470.60L333.94,471.45L334.80,475.29L336.50,470.60L338.21,474.01L339.49,476.57L340.77,469.74L342.22,474.44" stroke="#000" stroke-width="1.45" fill="none" stroke-linejoin="round"/>
<path d="M401.79,489.88L403.49,483.90L404.98,485.40L406.18,484.90L407.17,489.88L408.17,485.90L409.46,487.39L410.46,486.39L411.45,488.39L412.95,486.89L414.44,484.40L415.64,490.88L417.43,478.92L418.92,486.39L420.92,490.88L422.41,486.89L423.90,484.40L425.40,488.39L426.89,493.37L428.39,485.40L429.38,488.88L430.68,480.42L432.37,488.39L433.86,483.90L435.06,486.89L436.35,488.88L437.35,483.41L438.65,479.42L439.84,481.41L440.84,479.42L442.63,491.87L443.82,482.41L445.32,489.38L446.81,480.42L448.31,486.39L449.80,489.88L451.79,486.89L454.28,485.90L455.78,480.92L457.27,491.37L458.76,483.90L459.76,482.41L461.25,489.38L462.75,484.90L464.24,485.90L465.00,481.41L466.49,491.37L467.49,486.39L468.98,489.88L470.78,494.36L472.47,487.39L473.96,488.88L475.16,483.90L476.45,489.88L477.95,490.88L479.74,481.41L481.14,487.89L482.73,492.87L484.42,488.88L486.12,486.39L487.71,496.85L488.90,483.90L490.10,484.90L491.69,488.88L492.89,481.41L493.88,485.90L494.88,477.43L496.08,486.89L497.07,480.42L498.37,490.88L500.06,481.41L501.65,486.89L503.35,486.39L504.84,488.88L506.33,486.89L508.82,489.88L510.32,488.39L511.81,484.40L513.01,493.86L514.00,488.39L515.80,486.89L516.79,485.40L517.59,476.93L518.78,483.90L519.78,480.92L521.77,488.88L523.27,482.41L524.76,478.43L525.96,485.90L527.25,488.39L528.75,476.43L530.24,482.91L532.23,505.82L533.40,470.00L534.20,450.40L535.40,470.00L536.90,484.90L538.00,470.00L539.10,433.90L540.00,470.00L541.00,507.40L542.30,478.00L543.50,469.30L545.30,475.00L547.80,495.40L549.80,489.90L551.30,485.40L553.30,489.40L554.60,477.50L556.30,484.90L558.30,487.40L560.30,479.50L562.20,487.40L563.70,483.00L564.20,490.40L565.00,484.90L566.00,488.39L567.79,480.92L569.48,492.37L571.47,480.42L572.97,485.40L574.46,486.39L575.96,484.90L577.45,489.38L579.44,483.41L581.43,491.37L583.92,482.41L586.12,489.88L587.91,485.40L589.40,486.89L590.70,484.90L591.89,487.39L593.09,484.40L594.38,490.88L595.68,483.90L596.87,489.38L598.37,484.40L599.86,477.93L601.65,489.88L604.34,481.41L605.84,486.39L607.83,485.40L609.32,483.41L610.32,489.38L611.31,483.41L612.81,488.39L614.30,487.89L616.29,493.37L618.78,484.40L620.78,483.41L622.77,491.37L624.26,488.88L625.76,489.88L627.75,483.41L629.24,485.40L630.74,491.87L632.23,480.42L633.00,483.41L634.99,483.90L636.98,490.38L638.48,482.91L640.97,492.37L642.96,486.39L643.96,488.88L645.45,482.91L647.94,484.90L649.73,494.36L651.43,481.41L652.42,484.90L653.72,489.88L654.91,486.39L656.41,487.39L657.90,490.38L659.69,484.40L660.89,489.38L662.68,481.91L664.37,490.88L666.37,489.38L667.86,481.91L669.06,484.40L670.35,483.90L671.84,489.38L673.04,498.35L674.33,483.90L675.63,494.36L677.02,481.91L678.32,485.90L679.61,491.87L680.81,486.89L682.60,483.90L684.00,489.88L685.29,487.39L686.78,488.88L688.28,487.89L689.08,491.37L689.77,477.43L690.97,497.35L692.56,490.88L693.76,477.43L694.95,485.90L695.95,479.42L698.24,482.41L700.73,476.43L701.53,484.90" stroke="#000" stroke-width="1.45" fill="none" stroke-linejoin="round"/>
</svg>
</body></html>
